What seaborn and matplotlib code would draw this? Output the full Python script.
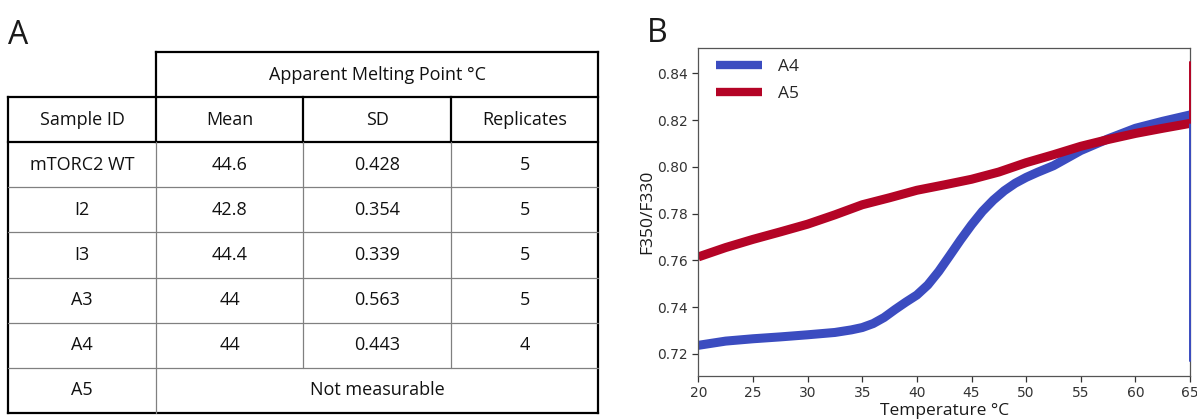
import numpy as np
import pandas as pd
import matplotlib
matplotlib.use("Agg")
import matplotlib.pyplot as plt
import seaborn as sns

# ========== PANEL A: TABLE VALUES ==========
group_header = "Apparent Melting Point °C"
col_headers = ["Sample ID", "Mean", "SD", "Replicates"]
sample_ids = ["mTORC2 WT", "I2", "I3", "A3", "A4", "A5"]
tm_mean = ["44.6", "42.8", "44.4", "44", "44", None]
tm_sd = ["0.428", "0.354", "0.339", "0.563", "0.443", None]
replicates = ["5", "5", "5", "5", "4", None]
a5_note = "Not measurable"

# ========== PANEL B: MELTING CURVES ==========
temp_a4 = [20, 22.5, 25, 27.5, 30, 32.5, 34, 35, 36, 37, 38, 39, 40, 41, 42, 43,
           44, 45, 46, 47, 48, 49, 50, 51, 52.5, 55, 57.5, 60, 62.5, 65, 65]
ratio_a4 = [0.7237, 0.7255, 0.7265, 0.7273, 0.7282, 0.7292, 0.7303, 0.7313,
            0.7330, 0.7356, 0.7390, 0.7422, 0.7452, 0.7495, 0.7553, 0.7620,
            0.7688, 0.7752, 0.7810, 0.7858, 0.7898, 0.7930, 0.7955, 0.7976,
            0.8005, 0.8070, 0.8120, 0.8165, 0.8195, 0.8222, 0.7168]
temp_a5 = [20, 22.5, 25, 27.5, 30, 32.5, 35, 37.5, 40, 42.5, 45, 47.5, 50,
           52.5, 55, 57.5, 60, 62.5, 65, 65]
ratio_a5 = [0.7615, 0.7655, 0.7690, 0.7722, 0.7755, 0.7795, 0.7838, 0.7868,
            0.7900, 0.7923, 0.7947, 0.7978, 0.8018, 0.8052, 0.8088, 0.8117,
            0.8143, 0.8165, 0.8186, 0.8447]

A4_COLOR = "#3b4cc0"
A5_COLOR = "#b40426"
LABEL_FONT = ["Open Sans", "DejaVu Sans"]

sns.set_style("ticks")
plt.rcParams["font.family"] = ["DejaVu Sans"]

fig = plt.figure(figsize=(11.97, 4.19), dpi=100)

# panel letters
fig.text(0.007, 0.895, "A", fontsize=23, family=LABEL_FONT, va="baseline", color="#1a1a1a")
fig.text(0.540, 0.900, "B", fontsize=23, family=LABEL_FONT, va="baseline", color="#1a1a1a")

# ========== TABLE ==========
ax_t = fig.add_axes([0.00693, 0.015, 0.49305, 0.8605])
ax_t.set_xlim(0, 4)
ax_t.set_ylim(8, 0)
ax_t.axis("off")

thick = dict(color="black", lw=1.6, clip_on=False, solid_capstyle="projecting")
thin = dict(color="#808080", lw=0.9, clip_on=False)

# header box + outer frame
ax_t.plot([1, 4], [0, 0], **thick)
ax_t.plot([1, 1], [0, 2], **thick)
ax_t.plot([4, 4], [0, 8], **thick)
ax_t.plot([0, 4], [1, 1], **thick)
ax_t.plot([0, 4], [2, 2], **thick)
ax_t.plot([0, 0], [1, 8], **thick)
ax_t.plot([0, 4], [8, 8], **thick)
for xc in [2, 3]:
    ax_t.plot([xc, xc], [1, 2], **thick)
# inner grid
for yr in range(3, 8):
    ax_t.plot([0, 4], [yr, yr], **thin)
ax_t.plot([1, 1], [2, 8], **thin)
for xc in [2, 3]:
    ax_t.plot([xc, xc], [2, 7], **thin)

txt = dict(ha="center", va="center", fontsize=13, family=LABEL_FONT, color="#111111")
ax_t.text(2.5, 0.5, group_header, **txt)
for i, h in enumerate(col_headers):
    ax_t.text(i + 0.5, 1.5, h, **txt)
for r, sid in enumerate(sample_ids):
    yc = r + 2.5
    ax_t.text(0.5, yc, sid, **txt)
    if tm_mean[r] is None:
        ax_t.text(2.5, yc, a5_note, **txt)
        continue
    ax_t.text(1.5, yc, tm_mean[r], **txt)
    ax_t.text(2.5, yc, tm_sd[r], **txt)
    ax_t.text(3.5, yc, replicates[r], **txt)

# ========== MELTING CURVES ==========
ax = fig.add_axes([0.5834, 0.1033, 0.4108, 0.7814])

curves = [("A4", temp_a4, ratio_a4, A4_COLOR), ("A5", temp_a5, ratio_a5, A5_COLOR)]
for name, t, r, c in curves:
    df = pd.DataFrame({"temp": t, "ratio": r})
    body = df.iloc[:-1]
    tail = df.iloc[-2:]
    sns.lineplot(data=body, x="temp", y="ratio", color=c, lw=6.5, sort=False,
                 estimator=None, ax=ax, label=name, solid_capstyle="butt",
                 solid_joinstyle="round")
    sns.lineplot(data=tail, x="temp", y="ratio", color=c, lw=1.4, sort=False,
                 estimator=None, ax=ax, zorder=3, clip_on=False)

ax.set_xlim(20, 65)
ax.set_ylim(0.7107, 0.8507)
ax.set_xticks(np.arange(20, 66, 5))
ax.set_yticks([0.72, 0.74, 0.76, 0.78, 0.80, 0.82, 0.84])
ax.set_yticklabels([f"{v:.2f}" for v in [0.72, 0.74, 0.76, 0.78, 0.80, 0.82, 0.84]])
ax.tick_params(labelsize=10, colors="#333333", length=4, width=0.9)
for s in ax.spines.values():
    s.set_color("#555555")
    s.set_linewidth(0.9)

ax.set_xlabel("Temperature °C", fontsize=12.5, family=LABEL_FONT, color="#1a1a1a")
ax.set_ylabel("F350/F330", fontsize=12.5, family=LABEL_FONT, color="#1a1a1a")
ax.xaxis.set_label_coords(0.5, -0.083)
ax.xaxis.label.set_va("top")
ax.yaxis.set_label_coords(-0.088, 0.5)

leg = ax.legend(loc="upper left", bbox_to_anchor=(0.035, 0.968), frameon=False,
                borderaxespad=0, borderpad=0, handlelength=2.7, handletextpad=0.9,
                labelspacing=0.65, prop={"family": LABEL_FONT, "size": 12.5})
for h in leg.get_lines():
    h.set_solid_capstyle("butt")
    h.set_linewidth(6)

fig.savefig("out.png", dpi=100)
